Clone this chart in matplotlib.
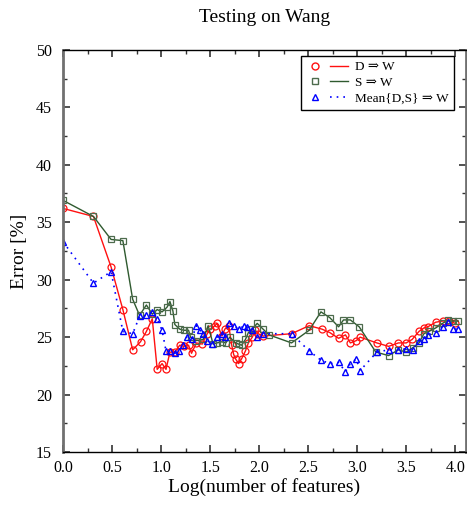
import numpy as np
import matplotlib.pyplot as plt
from matplotlib.lines import Line2D
from matplotlib.legend_handler import HandlerTuple
from matplotlib.ticker import MultipleLocator

plt.rcParams['font.family'] = ['Liberation Serif', 'DejaVu Serif']

# D => W
xd = [0.0, 0.31, 0.49, 0.61, 0.71, 0.79, 0.85, 0.91, 0.96, 1.01, 1.05, 1.09,
      1.14, 1.19, 1.23, 1.28, 1.31, 1.36, 1.42, 1.47, 1.50, 1.55, 1.57, 1.62,
      1.65, 1.69, 1.72, 1.74, 1.76, 1.79, 1.82, 1.86, 1.89, 1.93, 1.96, 1.99,
      2.04, 2.33, 2.51, 2.64, 2.72, 2.81, 2.88, 2.93, 2.99, 3.03, 3.20, 3.32,
      3.42, 3.50, 3.56, 3.63, 3.68, 3.72, 3.80, 3.87, 3.94, 4.00]
yd = [36.2, 35.5, 31.1, 27.4, 23.9, 24.6, 25.5, 26.6, 22.2, 22.7, 22.2, 23.7,
      23.7, 24.3, 24.2, 24.3, 23.6, 24.5, 24.4, 25.3, 25.7, 26.0, 26.2, 25.1,
      25.7, 26.0, 24.3, 23.5, 23.1, 22.7, 23.1, 23.8, 24.5, 25.0, 25.6, 25.3,
      25.1, 25.3, 26.0, 25.7, 25.4, 24.9, 25.2, 24.5, 24.7, 25.0, 24.5, 24.2,
      24.5, 24.5, 24.8, 25.5, 25.8, 25.9, 26.3, 26.4, 26.4, 26.2]

# S => W
xs = [0.0, 0.31, 0.49, 0.61, 0.71, 0.78, 0.85, 0.91, 0.96, 1.01, 1.06, 1.09,
      1.12, 1.14, 1.19, 1.23, 1.28, 1.30, 1.36, 1.43, 1.48, 1.53, 1.57, 1.62,
      1.66, 1.70, 1.76, 1.79, 1.82, 1.86, 1.89, 1.93, 1.98, 2.04, 2.10, 2.33,
      2.51, 2.63, 2.72, 2.81, 2.86, 2.93, 3.02, 3.19, 3.32, 3.42, 3.50, 3.57,
      3.63, 3.68, 3.73, 3.80, 3.87, 3.93, 3.98, 4.03]
ys = [36.9, 35.5, 33.5, 33.4, 28.3, 26.9, 27.8, 27.0, 27.4, 27.2, 27.6, 28.1,
      27.3, 26.1, 25.7, 25.6, 25.6, 25.0, 24.7, 24.8, 26.0, 24.4, 24.5, 24.6,
      24.5, 25.0, 24.5, 24.4, 24.3, 24.8, 25.4, 25.7, 26.2, 25.7, 25.2, 24.5,
      25.6, 27.2, 26.7, 25.9, 26.5, 26.5, 25.9, 23.7, 23.4, 23.9, 23.7, 24.1,
      24.5, 25.3, 25.5, 25.8, 26.2, 26.5, 26.4, 26.4]

# Mean{D,S} => W
xm = [0.0, 0.31, 0.49, 0.61, 0.71, 0.78, 0.85, 0.91, 0.96, 1.01, 1.05, 1.09,
      1.14, 1.18, 1.22, 1.26, 1.31, 1.36, 1.40, 1.43, 1.47, 1.52, 1.57, 1.62,
      1.65, 1.69, 1.74, 1.79, 1.85, 1.88, 1.93, 1.98, 2.04, 2.33, 2.51, 2.63,
      2.72, 2.81, 2.88, 2.93, 2.99, 3.03, 3.20, 3.32, 3.42, 3.50, 3.57, 3.63,
      3.68, 3.72, 3.80, 3.87, 3.93, 3.98, 4.03]
ym = [33.3, 29.7, 30.7, 25.5, 25.3, 26.8, 26.9, 27.2, 26.6, 25.6, 23.8, 23.8,
      23.6, 23.8, 24.3, 25.0, 24.8, 26.0, 25.6, 25.3, 24.7, 24.4, 25.0, 25.3,
      25.0, 26.2, 26.0, 25.7, 26.0, 25.9, 25.6, 25.0, 25.3, 25.3, 23.8, 23.0,
      22.7, 22.8, 22.0, 22.7, 23.1, 22.1, 23.7, 23.9, 23.9, 24.0, 23.9, 24.7,
      24.8, 25.2, 25.4, 25.9, 26.3, 25.7, 25.7]

red = '#ff1010'
green = '#2f5a2f'
sq = '#4d6b4d'
blue = '#0000ff'

fig = plt.figure(figsize=(4.67, 5.08), dpi=100)
ax = fig.add_axes([0.135, 0.110, 0.863, 0.792])

ax.plot(xd, yd, '-', color=red, lw=1.0, marker='o', ms=5, mfc='none',
        mec=red, mew=0.9)
ax.plot(xs, ys, '-', color=green, lw=1.0, marker='s', ms=4.8, mfc='none',
        mec=sq, mew=0.9)
ax.plot(xm, ym, color=blue, lw=1.2, dashes=(1, 3), marker='^', ms=4.5,
        mfc='none', mec=blue, mew=1.0)

ax.set_xlim(0, 4.11)
ax.set_ylim(15, 50)
ax.xaxis.set_major_locator(MultipleLocator(0.5))
ax.xaxis.set_minor_locator(MultipleLocator(0.25))
ax.yaxis.set_major_locator(MultipleLocator(5))
ax.yaxis.set_minor_locator(MultipleLocator(2.5))
ax.xaxis.set_major_formatter(plt.FormatStrFormatter('%.1f'))
ax.tick_params(which='both', direction='in', top=True, right=True,
               labelsize=11.5, colors='#333333', labelcolor='black')
ax.tick_params(which='major', length=5, width=1.2)
ax.tick_params(which='minor', length=3, width=1.0)
ax.tick_params(axis='x', which='major', pad=6)
ax.tick_params(axis='y', which='major', pad=8)

for s in ['left', 'right']:
    ax.spines[s].set_color('#707070')
    ax.spines[s].set_linewidth(2.0)
for s in ['top', 'bottom']:
    ax.spines[s].set_color('black')
    ax.spines[s].set_linewidth(1.0)

ax.set_title('Testing on Wang', fontsize=14, pad=20)
ax.set_xlabel('Log(number of features)', fontsize=14, labelpad=1)
ax.set_ylabel('Error [%]', fontsize=14, labelpad=6)

hd = (Line2D([], [], ls='none', marker='o', ms=5, mfc='none', mec=red),
      Line2D([], [], color=red, lw=1.0))
hs = (Line2D([], [], ls='none', marker='s', ms=5, mfc='none', mec=sq),
      Line2D([], [], color=green, lw=1.0))
hm = (Line2D([], [], ls='none', marker='^', ms=5, mfc='none', mec=blue),
      Line2D([], [], color=blue, lw=1.2, dashes=(1, 3)))
leg = ax.legend([hd, hs, hm], ['D \u21d2 W', 'S \u21d2 W', 'Mean{D,S} \u21d2 W'],
                handler_map={tuple: HandlerTuple(ndivide=None, pad=0.4)},
                loc='upper right', fontsize=9.5, handlelength=3.2,
                fancybox=False, edgecolor='black', framealpha=1,
                borderpad=0.4, labelspacing=0.25, handletextpad=0.5,
                borderaxespad=0, bbox_to_anchor=(0.970, 0.985))
leg.get_frame().set_linewidth(1.0)

fig.savefig('out.png', dpi=100)
